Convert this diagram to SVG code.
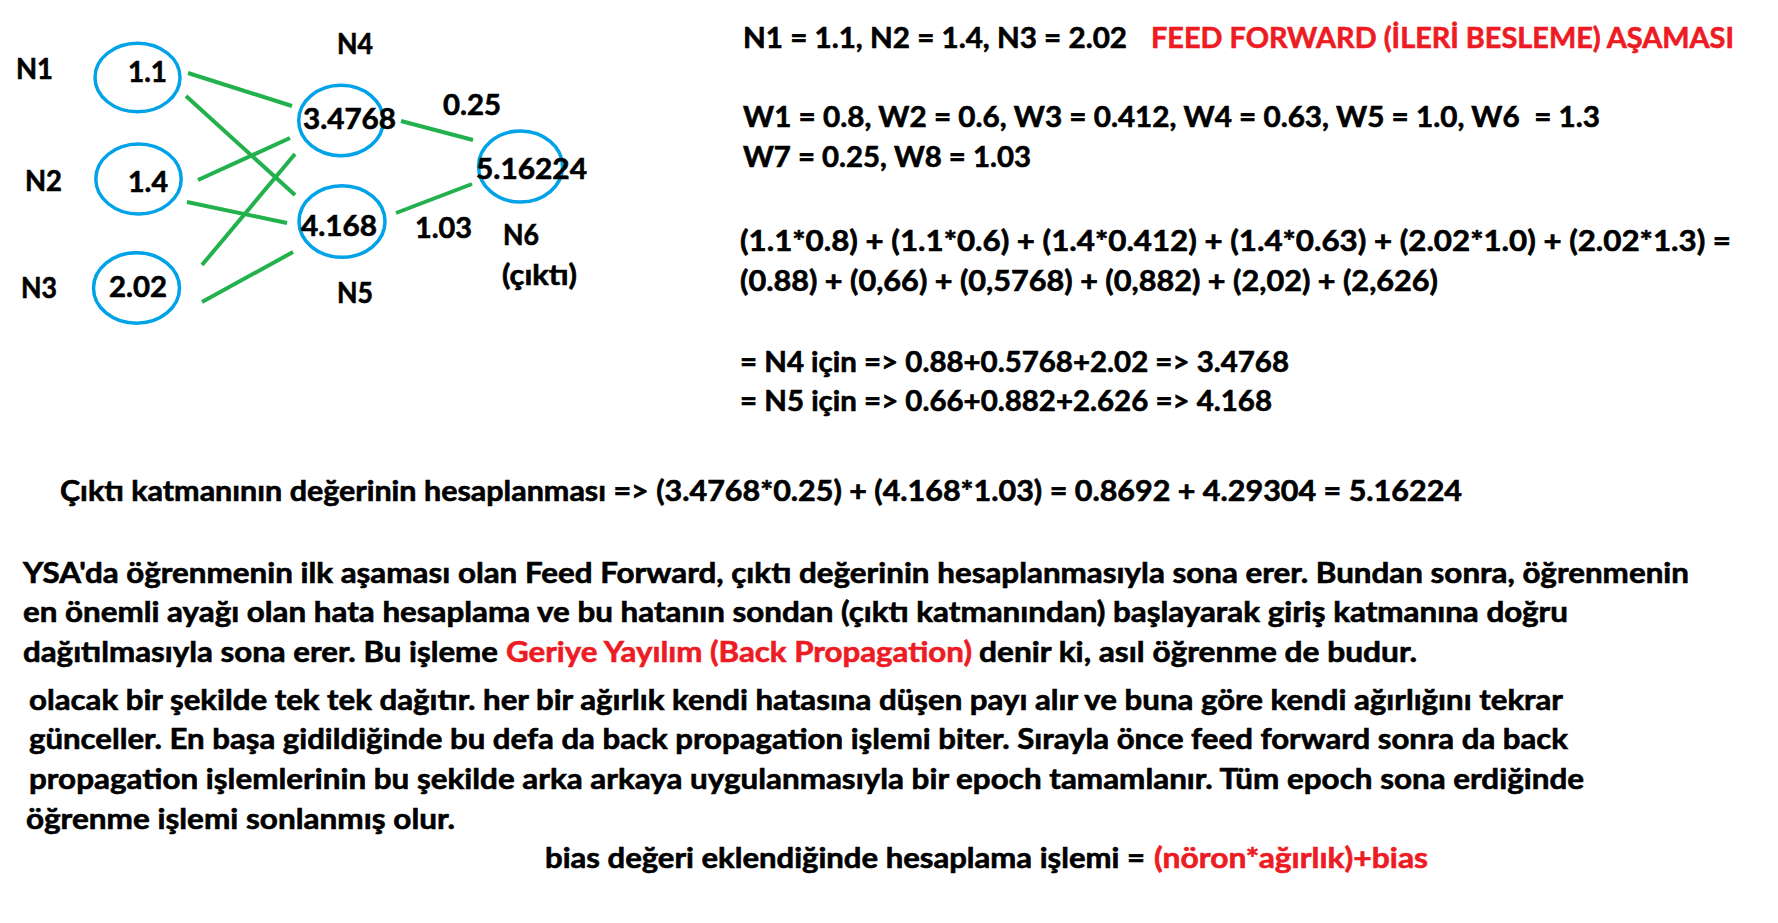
<svg xmlns="http://www.w3.org/2000/svg" width="1778" height="923" viewBox="0 0 1778 923">
<style>
text{font-family:Lato,"Open Sans","Noto Sans",sans-serif;font-weight:bold;font-size:28px;fill:#000;stroke:#000;stroke-width:0.6}
.r{fill:#ed1c24;stroke:#ed1c24}
.node{fill:none;stroke:#00a2e8;stroke-width:3.5}
.edge{stroke:#22b14c;stroke-width:4;fill:none}
</style>
<rect width="1778" height="923" fill="#fff"/>
<g id="connectors">
<line class="edge" x1="188" y1="73" x2="292" y2="106"/>
<line class="edge" x1="186" y1="96" x2="295" y2="195"/>
<line class="edge" x1="198" y1="180" x2="290" y2="138"/>
<line class="edge" x1="187" y1="202" x2="287" y2="223"/>
<line class="edge" x1="202" y1="265" x2="295" y2="154"/>
<line class="edge" x1="202" y1="302" x2="293" y2="252"/>
<line class="edge" x1="401" y1="121" x2="473" y2="140"/>
<line class="edge" x1="396" y1="213" x2="472" y2="184"/>
<text x="443" y="115" textLength="58" lengthAdjust="spacingAndGlyphs">0.25</text>
<text x="415" y="238" textLength="57" lengthAdjust="spacingAndGlyphs">1.03</text>
</g>
<g id="n1">
<ellipse class="node" cx="137.5" cy="77.5" rx="42.5" ry="34.3"/>
<text x="128" y="82" textLength="39" lengthAdjust="spacingAndGlyphs">1.1</text>
<text x="16" y="79" textLength="37" lengthAdjust="spacingAndGlyphs">N1</text>
</g>
<g id="n2">
<ellipse class="node" cx="138.5" cy="179" rx="42.7" ry="35"/>
<text x="128" y="192" textLength="40" lengthAdjust="spacingAndGlyphs">1.4</text>
<text x="25" y="191" textLength="37" lengthAdjust="spacingAndGlyphs">N2</text>
</g>
<g id="n3">
<ellipse class="node" cx="136.5" cy="288" rx="43" ry="35.3"/>
<text x="109" y="297" textLength="58" lengthAdjust="spacingAndGlyphs">2.02</text>
<text x="21" y="298" textLength="36" lengthAdjust="spacingAndGlyphs">N3</text>
</g>
<g id="n4">
<ellipse class="node" cx="341" cy="120.5" rx="42.3" ry="35.3"/>
<text x="303" y="129" textLength="93" lengthAdjust="spacingAndGlyphs">3.4768</text>
<text x="337" y="54" textLength="36" lengthAdjust="spacingAndGlyphs">N4</text>
</g>
<g id="n5">
<ellipse class="node" cx="342" cy="221.5" rx="43" ry="35.8"/>
<text x="301" y="236" textLength="76" lengthAdjust="spacingAndGlyphs">4.168</text>
<text x="337" y="303" textLength="36" lengthAdjust="spacingAndGlyphs">N5</text>
</g>
<g id="n6">
<ellipse class="node" cx="520.5" cy="166.5" rx="42" ry="35.6"/>
<text x="476" y="179" textLength="111" lengthAdjust="spacingAndGlyphs">5.16224</text>
<text x="503" y="245" textLength="36" lengthAdjust="spacingAndGlyphs">N6</text>
<text x="502" y="285" textLength="75" lengthAdjust="spacingAndGlyphs">(çıktı)</text>
</g>
<g id="calc">
<text x="743" y="48" textLength="384" lengthAdjust="spacingAndGlyphs">N1 = 1.1, N2 = 1.4, N3 = 2.02</text>
<text class="r" x="1151" y="48" textLength="583" lengthAdjust="spacingAndGlyphs">FEED FORWARD (İLERİ BESLEME) AŞAMASI</text>
<text x="743" y="127" textLength="857" lengthAdjust="spacingAndGlyphs" xml:space="preserve">W1 = 0.8, W2 = 0.6, W3 = 0.412, W4 = 0.63, W5 = 1.0, W6  = 1.3</text>
<text x="743" y="167" textLength="288" lengthAdjust="spacingAndGlyphs">W7 = 0.25, W8 = 1.03</text>
<text x="740" y="251" textLength="991" lengthAdjust="spacingAndGlyphs">(1.1*0.8) + (1.1*0.6) + (1.4*0.412) + (1.4*0.63) + (2.02*1.0) + (2.02*1.3) =</text>
<text x="740" y="291" textLength="698" lengthAdjust="spacingAndGlyphs">(0.88) + (0,66) + (0,5768) + (0,882) + (2,02) + (2,626)</text>
<text x="740" y="372" textLength="549" lengthAdjust="spacingAndGlyphs">= N4 için =&gt; 0.88+0.5768+2.02 =&gt; 3.4768</text>
<text x="740" y="411" textLength="532" lengthAdjust="spacingAndGlyphs">= N5 için =&gt; 0.66+0.882+2.626 =&gt; 4.168</text>
<text x="60" y="501" textLength="1402" lengthAdjust="spacingAndGlyphs">Çıktı katmanının değerinin hesaplanması =&gt; (3.4768*0.25) + (4.168*1.03) = 0.8692 + 4.29304 = 5.16224</text>
</g>
<g id="paragraph">
<text x="23" y="583" textLength="1666" lengthAdjust="spacingAndGlyphs">YSA'da öğrenmenin ilk aşaması olan Feed Forward, çıktı değerinin hesaplanmasıyla sona erer. Bundan sonra, öğrenmenin</text>
<text x="23" y="622" textLength="1545" lengthAdjust="spacingAndGlyphs">en önemli ayağı olan hata hesaplama ve bu hatanın sondan (çıktı katmanından) başlayarak giriş katmanına doğru</text>
<text x="23" y="662" textLength="475" lengthAdjust="spacingAndGlyphs">dağıtılmasıyla sona erer. Bu işleme</text>
<text class="r" x="506" y="662" textLength="466" lengthAdjust="spacingAndGlyphs">Geriye Yayılım (Back Propagation)</text>
<text x="979" y="662" textLength="438" lengthAdjust="spacingAndGlyphs">denir ki, asıl öğrenme de budur.</text>
<text x="29" y="710" textLength="1534" lengthAdjust="spacingAndGlyphs">olacak bir şekilde tek tek dağıtır. her bir ağırlık kendi hatasına düşen payı alır ve buna göre kendi ağırlığını tekrar</text>
<text x="29" y="749" textLength="1539" lengthAdjust="spacingAndGlyphs">günceller. En başa gidildiğinde bu defa da back propagation işlemi biter. Sırayla önce feed forward sonra da back</text>
<text x="29" y="789" textLength="1555" lengthAdjust="spacingAndGlyphs">propagation işlemlerinin bu şekilde arka arkaya uygulanmasıyla bir epoch tamamlanır. Tüm epoch sona erdiğinde</text>
<text x="26" y="829" textLength="429" lengthAdjust="spacingAndGlyphs">öğrenme işlemi sonlanmış olur.</text>
<text x="545" y="868" textLength="600" lengthAdjust="spacingAndGlyphs">bias değeri eklendiğinde hesaplama işlemi =</text>
<text class="r" x="1154" y="868" textLength="274" lengthAdjust="spacingAndGlyphs">(nöron*ağırlık)+bias</text>
</g>
</svg>
